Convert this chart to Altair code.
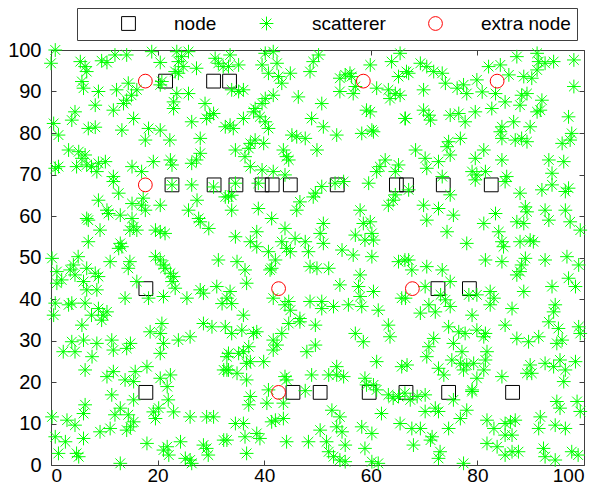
import altair as alt
import pandas as pd

# ---------------- data ----------------
node_x = [21.5, 30.5, 33.5,
          22.7, 30.6, 34.7, 39.6, 41.5, 44.9, 53.7, 64.8, 66.7, 73.6, 82.6,
          17.8, 72.6, 78.5,
          17.8, 45.4, 50.5, 59.7, 66.6, 74.6, 86.6]
node_y = [92.5, 92.5, 92.5,
          67.5, 67.5, 67.5, 67.5, 67.5, 67.5, 67.5, 67.5, 67.5, 67.5, 67.5,
          42.5, 42.5, 42.5,
          17.5, 17.5, 17.5, 17.5, 17.5, 17.5, 17.5]

extra_x = [17.7, 58.6, 83.7, 17.7, 42.7, 67.8, 42.7]
extra_y = [92.5, 92.5, 92.5, 67.5, 42.5, 42.5, 17.5]

scat_top_left = [(0.8,100),(0,96.8),(18.9,99.6),(20.5,97),(23.6,99.6),(24.5,98.4),(25.8,99.6),(23.9,97.2),(24.8,96),(23.3,94.8),(23.9,94.4),(27.3,95.6),(30.8,98),(31.4,96.8),(32.3,96),(5.5,97.2),(6.4,96),(6.7,94.8),(9.5,97.4),(10.5,97),(12,98.8),(14.2,98.8),(5.8,92.4),(6.1,90.8),(8.9,90),(12.3,90.4),(14.5,92),(16.1,90.4),(15.1,89.1),(14.2,87.9),(13.6,87.1),(20.8,92.4),(20.5,91.6),(23.6,89.5),(23,87.5),(23,85.9),(25.8,89.5),(8.3,86.7),(4.5,85.1),(3.9,83.1),(11.7,85.5),(15.5,83.5),(28.9,87.1),(29.8,84.3),(30.5,84.7),(29.2,83.5),(0.5,82.3),(1.4,79.5),(7,81.1),(8.3,81.4),(13.3,80.7),(18.3,81.1),(20.5,80.7),(17.7,78.3),(22.3,78.3),(26.4,82.7),(28,78.7),(32.7,81.5),(3.3,75.9),(5.2,75.5),(6.4,74.7),(5.8,73.9),(10.2,73.1),(8.9,72.7),(7.6,71.9),(6.7,72.3),(4.8,71.9),(0.8,71.5),(1.4,71.9),(15.2,71.9),(17,70.7),(19.2,73.1),(22.4,73.5),(22.7,72.3),(26.4,72.7),(27.3,73.5),(28,75.1),(11.7,69.5),(8.6,70.7)]

scat_top_mid = [(33.6,98.8),(35.2,96.4),(33.3,96),(41.7,99.6),(40.2,99.2),(42.4,96.8),(39.6,96.4),(40.8,94.4),(42.7,93.6),(44.9,94.4),(43.3,92),(48.6,94.8),(49.2,97.2),(50.2,98.8),(59.9,96.4),(54.2,93.2),(55.2,94),(56.1,94.4),(56.4,93.6),(57.1,91.2),(56.7,89.5),(54.2,90),(61.1,90.8),(63.9,97.2),(65.5,99.2),(65.2,93.6),(66.7,94.8),(63.3,90.4),(64.6,89.5),(65.5,89.1),(63.6,88.3),(33.9,90.4),(35.2,90),(36.1,90.4),(41.7,89.1),(40.2,88.3),(39.6,87.1),(38.3,85.9),(38,85.1),(46.4,88.7),(50.8,87.1),(59.2,85.5),(59.9,85.1),(39.2,83.9),(40.2,82.7),(40.8,81.1),(36.1,83.5),(33.6,81.9),(34.2,81.1),(48.9,83.5),(51.1,81.5),(53.6,79.5),(45.2,79.5),(46.1,79.1),(47.7,78.7),(58.3,79.9),(60.2,80.7),(60.5,80.3),(66.4,83.5),(37.4,77.5),(37.1,76.3),(39.9,77.5),(38.3,78.3),(34.6,75.9),(36.4,74.3),(37.4,71.9),(43.6,75.9),(44.6,73.5),(44.2,74.3),(49.9,75.9),(41.7,70.7),(43.9,69.9),(39.6,71.1),(62.7,73.5),(61.7,71.9),(65.2,72.3),(61.1,70.7),(64.6,70.7)]

scat_top_right = [(67.1,94.4),(69.3,96.8),(70.5,96),(71.8,94.8),(73.4,94.4),(69.9,90.4),(74,92),(76.2,90.8),(77.4,91.6),(78,89.5),(79.9,92.8),(80.9,89.9),(82.1,96),(84.3,96.4),(85.9,94),(87.4,98.4),(91.2,99.2),(91.5,97.2),(92.7,96.8),(94.3,97.2),(98.1,97.6),(88.7,93.6),(90.2,93.2),(91.2,95.2),(98.1,91.2),(83.4,89.5),(85.2,87.5),(88.3,89.1),(89.3,89.5),(88,86.7),(92.1,87.9),(91.8,85.5),(91.2,85.1),(82.7,85.9),(69.9,85.5),(70.9,84.3),(71.2,83.1),(66.5,83.5),(74.9,84.3),(76.5,84.7),(77.7,82.7),(79.6,85.1),(84.6,81.5),(86.8,82.7),(84.3,80.3),(84.6,78.7),(89.9,81.5),(97.1,83.9),(97.7,79.9),(97.4,78.3),(95.9,77.5),(87.1,78.3),(88.3,78.7),(89.3,77.9),(76.8,78.7),(74.6,77.9),(74.3,76.7),(74.9,74.7),(68.4,75.9),(70.2,73.9),(72.7,73.1),(81.2,75.9),(79.6,73.9),(84.6,73.5),(93.4,73.5),(96.2,73.1),(79,70.7),(79.9,69.9),(81.5,70.7),(85.5,69.5),(94,70.3),(70.5,71.5),(73.4,69.5)]

scat_mid_left = [(11.7,68.3),(8.9,63.8),(12.7,65.5),(10.5,61.4),(10.8,60.6),(13,60.2),(15.2,63),(17,62.6),(17.7,61.4),(17.3,64.3),(20.5,62.6),(15.2,59.4),(15.5,57.4),(14.8,56.6),(16.1,56.6),(6.7,59.4),(7,59),(9.2,56.6),(7,53.8),(13,53.4),(13.3,52.6),(12.7,52.2),(19.6,56.6),(20.5,56.2),(21.4,55.8),(25.8,61.4),(27.4,63.8),(27.7,59.4),(28,58.6),(29.6,57),(30.5,67),(22.7,67.5),(26.4,67.5),(32.7,64.6),(0.2,49.8),(5.1,50.2),(4.2,48.2),(3.6,47),(4.5,45.8),(1.1,46.6),(2,44.6),(1.1,43.8),(6.7,47.4),(8.3,46.2),(8.9,45.4),(11.1,49),(14.8,49),(14.5,47.4),(6.1,44.2),(8.6,42.2),(6.7,42.2),(16.1,44.2),(19.6,50.2),(20.5,49.4),(21.1,48.2),(21.4,47.4),(22.4,46.2),(23,45.4),(22.7,44.2),(23.3,42.6),(31.4,49.4),(18.3,40.2),(21.1,40.6),(25.5,40.2),(28,42.2),(28.6,41.4),(31.1,43),(32.1,38.9),(33,40.2),(0.8,39),(3.3,38.6),(3.9,39),(6.4,39),(8.9,37.7),(13.9,40.2),(0.5,36.1),(7.6,36.1),(9.8,36.1),(10.5,36.9)]

scat_mid_mid = [(34.6,67.9),(33.9,65),(33.3,64.6),(38.9,67.9),(50.8,67.1),(49.6,65.5),(49.2,64.6),(46.7,63.4),(46.1,61.4),(53.3,67.9),(54.9,68.3),(59.6,67.9),(33.9,61.4),(38.9,61.8),(41.4,59.4),(58,61.4),(63.3,62.6),(64.2,63.8),(64.6,65.1),(34.6,55),(38.6,56.2),(37.4,53.8),(38.6,52.6),(43.9,57),(43.3,53.8),(44.2,52.2),(44.9,51.4),(45.8,54.6),(47.7,53.8),(51.1,58.2),(50.5,55.8),(51.1,53.4),(40.8,51.4),(42.1,49.4),(41.4,47.4),(41.1,47),(48.3,51.4),(54.6,51.8),(56.7,50.6),(60.2,50.2),(57.1,55.4),(58.6,58.2),(59.9,58.6),(60.2,55.8),(58.9,54.2),(60.5,54.2),(65.2,49),(66.4,49.4),(34.9,49),(36.4,47),(36.7,43.8),(48.6,47.8),(49.9,47.4),(52.1,47.4),(54.2,43.4),(58,45.8),(57.7,43),(60.5,41.8),(58,40.6),(58.3,38.2),(33.6,41.8),(33.9,38.9),(41.7,40.2),(43.9,38.6),(44.6,39.4),(44.9,37.3),(48.6,39.4),(50.8,39.4),(53,38.2),(50.8,37.7),(55.8,38.6),(61.4,37.3),(65.8,40.2),(36.1,36.1),(46.7,35.3)]

scat_mid_right = [(67.1,66.3),(79.6,68.7),(85.2,68.3),(74.9,65.1),(88,65.5),(92.1,66.3),(94,67.5),(96.5,65.9),(97.1,66.7),(69.9,62.6),(72.7,61.8),(70.5,59),(75.5,60.2),(83.4,60.6),(81.2,58.2),(89,62.2),(89.3,61),(92.7,61.4),(96.5,61.4),(87.4,58.6),(88.7,58.2),(93.4,59),(97.4,58.6),(99.3,56.6),(74.3,56.2),(84,56.2),(84.6,53.8),(84.9,52.6),(78,53.4),(88,53.8),(89.9,54.2),(90.5,53.8),(67.1,49.4),(67.7,47),(70.5,47.8),(73.4,47),(74.9,44.2),(81.5,49.4),(84.6,49),(89,49.8),(88.3,48.2),(88,46.6),(87.4,45.8),(92.7,49.4),(96.8,50.2),(99,48.2),(97.1,45),(98.4,43),(94,43),(88.7,41.8),(70.2,43),(73.1,41),(74,39.8),(74.9,38.2),(82.4,41.8),(83.1,40.2),(82.4,38.6),(78.4,41),(79.9,41),(70.9,38.6),(69.3,36.6),(72.1,36.9),(79,36.1),(86.5,37.7),(94.6,38.6),(94.3,36.9),(66.5,40.2)]

scat_bot_left = [(5.8,33.7),(9.5,34.9),(3.9,29.7),(4.5,27.3),(2.3,27.3),(6.1,30.1),(8.6,29.3),(11.4,30.1),(11.7,27.7),(14.2,28.1),(14.9,29.3),(18.6,32.1),(20.5,31.7),(20.8,34.1),(21.1,29.3),(20.5,26.9),(23.9,30.1),(26.1,30.9),(7.7,26.1),(6.4,22.9),(10.5,21.3),(11.7,22.5),(13.9,20.5),(15.5,20.1),(15.8,22.5),(18,23.7),(20.5,20.9),(22.4,21.7),(21.8,18.9),(11.4,16.9),(13,13.7),(12,12.1),(14.5,12.1),(15.5,10.4),(14.9,9.2),(14.2,8.4),(15.5,15.7),(6.4,14.5),(6.1,12.4),(0.2,11.6),(3,10.8),(4.5,9.6),(9.2,8),(11.1,8.8),(20.2,13.7),(19.2,12.8),(19.6,11.2),(22,15.7),(23,12.8),(26.1,11.6),(29.2,11.6),(30.5,11.6),(32.4,22.9),(33,22.9),(33,26.1),(0.8,6.8),(2.7,5.6),(6.1,6.4),(1.4,2.8),(4.8,2.8),(5.2,2),(18,5.2),(21.1,3.6),(21.8,4.4),(22.1,2.4),(24.3,5.6),(25.2,1.6),(26.1,1.2),(26.4,0.4),(13,0.4),(28.6,4.8),(29.2,4),(29.5,2.4),(32.4,6),(28.6,34.1),(30.2,33.3),(32.7,33.3)]

scat_bot_mid = [(33.9,31.7),(35.8,32.5),(38,31.7),(38.6,32.1),(41.7,30.1),(43.3,31.7),(42.4,28.9),(41.7,27.7),(44.6,34.1),(46.7,34.5),(49.6,33.7),(49.6,28.9),(48,27.3),(57.1,31.7),(58.6,29.7),(63.3,33.7),(63.6,30.9),(33.3,26.9),(35.2,26.9),(36.1,27.3),(37.1,28.5),(37.4,24.9),(36.7,24.5),(39.9,24.9),(33.3,22.9),(34.9,22.1),(36.7,20.5),(61.1,24.9),(65.8,23.7),(53.6,23.7),(52.1,21.7),(53.6,21.7),(54.9,21.3),(48.9,21.7),(43.9,21.3),(44.2,20.5),(58.9,20.9),(59.2,19.3),(60.5,19.3),(61.1,18.1),(47.7,17.9),(37.4,16.5),(37.1,14.5),(40.5,14.9),(43.6,14.9),(40.8,18.1),(63.3,16.9),(64.2,16.1),(65.2,16.5),(66.4,17.3),(52.7,13.2),(54.2,11.6),(53.6,9.2),(54.6,8),(50.5,8.4),(62,12.4),(65.5,10),(34.6,10),(36.1,10),(41.4,10.4),(42.1,10.8),(43.6,11.2),(36.4,6.8),(38.6,7.6),(39.2,6.4),(44.2,5.6),(48.3,5.6),(51.7,5.6),(55.2,4.8),(52.1,3.2),(53,2),(54.2,1.2),(55.2,0.8),(58.3,9.2),(60.2,7.6),(58.9,4),(60.2,0.8),(61.4,0.4),(36.7,2.8),(33,6)]

scat_bot_right = [(74.6,33.3),(76.5,32.1),(77.7,31.7),(79.9,32.5),(81.5,31.7),(81.2,30.9),(85.2,33.7),(87.4,30.5),(89.6,29.7),(91.5,30.9),(93.4,34.5),(95.2,32.9),(95.9,30.1),(94.9,29.3),(99,33.3),(99.3,31.7),(71.8,30.5),(70.9,28.5),(70.5,26.1),(75.5,29.3),(77.1,27.3),(75.2,25.3),(76.8,24.5),(78,24.1),(77.4,22.9),(79.3,24.5),(81.8,27.3),(81.5,25.3),(81.2,22.9),(73.7,21.7),(72.7,23.3),(66.8,24.1),(79.9,20.9),(79,18.1),(84.6,21.3),(89.9,24.1),(89.3,22.1),(90.2,22.1),(92.7,24.5),(94.3,23.7),(95.5,25.3),(96.5,22.9),(96.2,20.1),(98.4,24.9),(70.2,16.9),(68.7,16.5),(67.4,15.7),(75.5,15.7),(72.1,13.7),(72.7,12.9),(70.2,12.9),(78,13.2),(76.8,11.2),(74.6,8.8),(67.7,8.8),(69.3,8.8),(71.5,6.8),(71.2,6),(68,4.8),(73,3.2),(72.7,1.6),(77.4,0.4),(81.8,10.8),(83.1,8.8),(85.2,10),(86.2,10.4),(87.1,10.8),(85.2,7.2),(86.5,7.2),(81.8,5.2),(83.7,4.4),(85.2,2.4),(86.5,3.2),(87.7,3.2),(91.8,11.6),(91.5,8.8),(94.6,9.6),(96.5,8.8),(94.9,15.3),(95.5,13.7),(98.7,15.3),(99.3,12.9),(92.4,4),(92.7,2),(94.6,1.2),(97.7,3.2),(98.9,2.4),(79,17.7)]

series_names = ["node", "scatterer", "extra node"]
series_colors = ["#000000", "#00ff00", "#ff0000"]
asterisk = "M-1,0L1,0M0,-1L0,1M-0.71,-0.71L0.71,0.71M-0.71,0.71L0.71,-0.71"
series_shapes = ["square", asterisk, "circle"]
x_ticks = [0, 20, 40, 60, 80, 100]
y_ticks = [0, 10, 20, 30, 40, 50, 60, 70, 80, 90, 100]

# ---------------- table ----------------
rows = []
for x, y in zip(node_x, node_y):
    rows.append({"x": x, "y": y, "series": "node"})
for region in [scat_top_left, scat_top_mid, scat_top_right,
               scat_mid_left, scat_mid_mid, scat_mid_right,
               scat_bot_left, scat_bot_mid, scat_bot_right]:
    for x, y in region:
        rows.append({"x": x, "y": y, "series": "scatterer"})
for x, y in zip(extra_x, extra_y):
    rows.append({"x": x, "y": y, "series": "extra node"})
df = pd.DataFrame(rows)

AX = "#404040"
FONT = "Liberation Sans"

legend = alt.Legend(
    title=".", titleOrient="left", titleColor="white", titleFontSize=8,
    titlePadding=33,
    orient="none", legendX=26, legendY=-42,
    direction="horizontal", gridAlign="none",
    strokeColor=AX, fillColor="white", padding=6,
    labelFont=FONT, labelFontSize=19, labelColor="black",
    symbolSize=190, symbolStrokeWidth=1, symbolFillColor="transparent",
    labelOffset=36, columnPadding=40,
)

xscale = alt.Scale(domain=[0, 100], nice=False, zero=False)
yscale = alt.Scale(domain=[0, 100], nice=False, zero=False)

points = alt.Chart(df).mark_point(filled=False, strokeWidth=1, size=190, opacity=1).encode(
    x=alt.X("x:Q", scale=xscale,
            axis=alt.Axis(title=None, values=x_ticks, domain=False, tickSize=5, offset=-5,
                          tickColor=AX, labelPadding=1, labelFontSize=19, labelFont=FONT,
                          labelColor="black", grid=False)),
    y=alt.Y("y:Q", scale=yscale,
            axis=alt.Axis(title=None, values=y_ticks, domain=False, tickSize=5, offset=-5,
                          tickColor=AX, labelPadding=10, labelFontSize=20, labelFont=FONT,
                          labelColor="black", grid=False)),
    color=alt.Color("series:N", scale=alt.Scale(domain=series_names, range=series_colors), legend=legend),
    shape=alt.Shape("series:N", scale=alt.Scale(domain=series_names, range=series_shapes), legend=legend),
)

frame_axes = alt.Chart(df).mark_point(opacity=0).encode(
    x=alt.X("x:Q", scale=xscale,
            axis=alt.Axis(orient="top", title=None, values=x_ticks, domain=False, labels=False,
                          tickSize=5, offset=-5, tickColor=AX, grid=False)),
    y=alt.Y("y:Q", scale=yscale,
            axis=alt.Axis(orient="right", title=None, values=y_ticks, domain=False, labels=False,
                          tickSize=5, offset=-5, tickColor=AX, grid=False)),
)

chart = alt.layer(points, frame_axes).resolve_axis(x="independent", y="independent").properties(
    width=533, height=415,
    autosize=alt.AutoSizeParams(type="none"),
    padding={"left": 43, "top": 42, "right": 17, "bottom": 22},
).configure_view(stroke=AX, strokeWidth=1)

chart.save("out.html", embed_options={"renderer": "svg", "actions": False})
